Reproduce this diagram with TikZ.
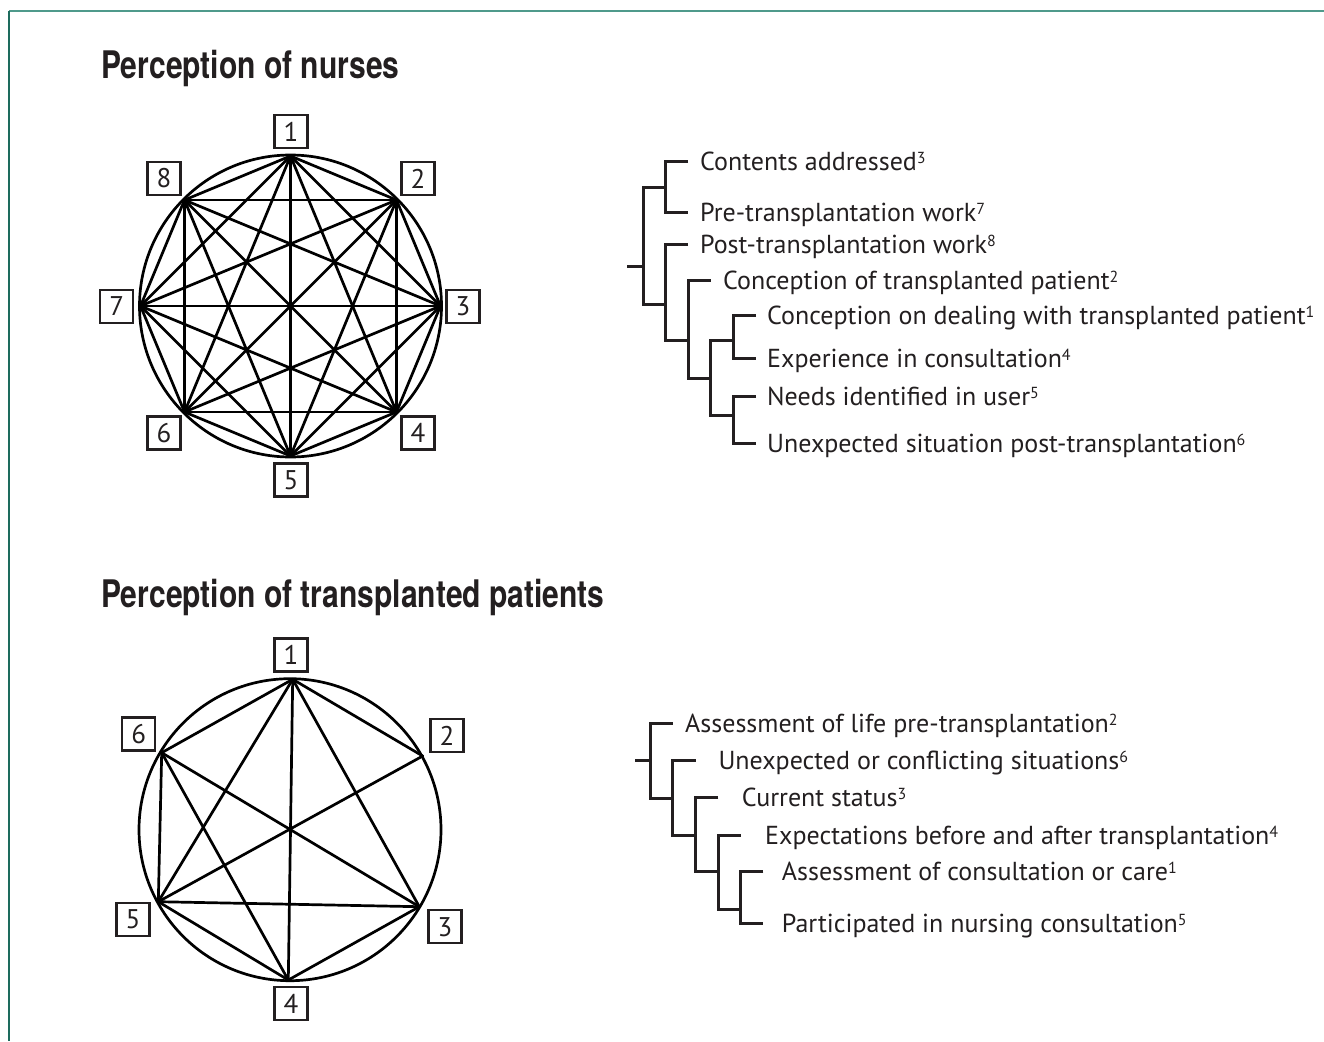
\documentclass[tikz,border=0pt]{standalone}
\usepackage{fontspec}
\setmainfont{PT Sans}
\newfontfamily\titlefont{TeX Gyre Heros}
\definecolor{ink}{HTML}{231F20}
\definecolor{frameA}{HTML}{4F9A8B}
\definecolor{frameB}{HTML}{1D6B5D}
\newcommand{\sups}[1]{\raisebox{7pt}{\fontsize{16}{16}\selectfont #1}}
\begin{document}
\begin{tikzpicture}[x=1pt,y=-1pt,
  numbox/.style={draw=ink, line width=2.4pt, minimum width=33pt, minimum height=33pt, inner sep=0pt, font=\fontsize{27}{27}\selectfont, text=ink},
  edge/.style={line width=2.7pt, black, line cap=round},
  ring/.style={line width=2.7pt, black},
  tree/.style={line width=3pt, ink},
  leaf/.style={anchor=base west, inner sep=0pt, font=\fontsize{26}{30}\selectfont, text=ink},
  title/.style={anchor=base west, inner sep=0pt, font=\titlefont\bfseries\fontsize{38}{40}\selectfont, text=ink}]

\useasboundingbox (0,0) rectangle (1324,1041);
\fill[white] (0,0) rectangle (1324,1041);
\draw[frameA, line width=2.5pt] (9,11) -- (1324,11);
\draw[frameB, line width=1.5pt] (9,11) -- (9,1041);

% titles
\node[title] (t1) at (101,78) {\scalebox{0.79}[1]{Perception of nurses}};
\node[title] (t2) at (101,607) {\scalebox{0.79}[1]{Perception of transplanted patients}};

% ---------- top graph ----------
\coordinate (cA) at (290.5,306);
\coordinate (p1) at (290.5,156);
\coordinate (p2) at (396.5,200);
\coordinate (p3) at (440.5,306);
\coordinate (p4) at (396.5,412);
\coordinate (p5) at (290.5,456);
\coordinate (p6) at (184.5,412);
\coordinate (p7) at (140.5,306);
\coordinate (p8) at (184.5,200);
\draw[ring] (cA) circle[radius=151pt];
\foreach \i in {1,...,7}{
  \pgfmathtruncatemacro\s{\i+1}
  \foreach \j in {\s,...,8}{ \draw[edge] (p\i) -- (p\j); }
}
\node[numbox] (a1) at (291,131.5) {1};
\node[numbox] (a2) at (418,178.5) {2};
\node[numbox] (a3) at (463,306.5) {3};
\node[numbox] (a4) at (418,433) {4};
\node[numbox] (a5) at (291,480) {5};
\node[numbox] (a6) at (164,433) {6};
\node[numbox] (a7) at (116.7,306.5) {7};
\node[numbox] (a8) at (164,178.5) {8};

% ---------- bottom graph ----------
\coordinate (cB) at (290,829.7);
\coordinate (q1) at (292.7,679.3);
\coordinate (q2) at (422.7,756);
\coordinate (q3) at (419.3,906.7);
\coordinate (q4) at (288.3,980);
\coordinate (q5) at (158.3,901.7);
\coordinate (q6) at (161.7,752.7);
\draw[ring] (cB) circle[radius=151pt];
\foreach \a/\b in {1/2,1/3,1/4,1/5,1/6,2/5,3/4,3/5,3/6,4/5,4/6,5/6}{
  \draw[edge] (q\a) -- (q\b);
}
\node[numbox] (b1) at (291,655) {1};
\node[numbox] (b2) at (447,735.5) {2};
\node[numbox] (b3) at (445,926.7) {3};
\node[numbox] (b4) at (291,1003.5) {4};
\node[numbox] (b5) at (133,919.3) {5};
\node[numbox] (b6) at (138.7,734) {6};

% ---------- top dendrogram ----------
\draw[tree] (627,266.7) -- (643,266.7);
\draw[tree] (665,187.7) -- (643,187.7) -- (643,304.3) -- (665,304.3);
\draw[tree] (688,161.7) -- (665,161.7) -- (665,212.3) -- (688,212.3);
\draw[tree] (688,244.3) -- (665,244.3) -- (665,340.7) -- (688,340.7);
\draw[tree] (710.7,280) -- (688,280) -- (688,378.3) -- (710.7,378.3);
\draw[tree] (733,340.7) -- (710.7,340.7) -- (710.7,415) -- (733,415);
\draw[tree] (756,315) -- (733,315) -- (733,358.3) -- (756,358.3);
\draw[tree] (756,396.7) -- (733,396.7) -- (733,443.3) -- (756,443.3);

\node[leaf] (n3) at (700,170.7) {Contents addressed\sups{3}};
\node[leaf] (n7) at (700,221.3) {Pre-transplantation work\sups{7}};
\node[leaf] (n8) at (700,253.3) {Post-transplantation work\sups{8}};
\node[leaf] (n2) at (723,289) {Conception of transplanted patient\sups{2}};
\node[leaf] (n1) at (767,324) {Conception on dealing with transplanted patient\sups{1}};
\node[leaf] (n4) at (767,367.3) {Experience in consultation\sups{4}};
\node[leaf] (n5) at (767,405.7) {Needs identified in user\sups{5}};
\node[leaf] (n6) at (767,452.3) {Unexpected situation post-transplantation\sups{6}};

% ---------- bottom dendrogram ----------
\draw[tree] (635,760) -- (650,760);
\draw[tree] (672.7,723.3) -- (650,723.3) -- (650,798.3) -- (672.7,798.3);
\draw[tree] (695.7,760) -- (672.7,760) -- (672.7,835) -- (695.7,835);
\draw[tree] (718.3,797.3) -- (695.7,797.3) -- (695.7,871.7) -- (718.3,871.7);
\draw[tree] (740.7,835) -- (718.3,835) -- (718.3,909.3) -- (740.7,909.3);
\draw[tree] (763.3,871.7) -- (740.7,871.7) -- (740.7,923.3) -- (763.3,923.3);

\node[leaf] (m2) at (685,732.3) {Assessment of life pre-transplantation\sups{2}};
\node[leaf] (m6) at (718.3,769) {Unexpected or conflicting situations\sups{6}};
\node[leaf] (m3) at (741.7,806.3) {Current status\sups{3}};
\node[leaf] (m4) at (765,844) {Expectations before and after transplantation\sups{4}};
\node[leaf] (m1) at (781.7,880.7) {Assessment of consultation or care\sups{1}};
\node[leaf] (m5) at (781.7,932.3) {Participated in nursing consultation\sups{5}};
\end{tikzpicture}
\end{document}
